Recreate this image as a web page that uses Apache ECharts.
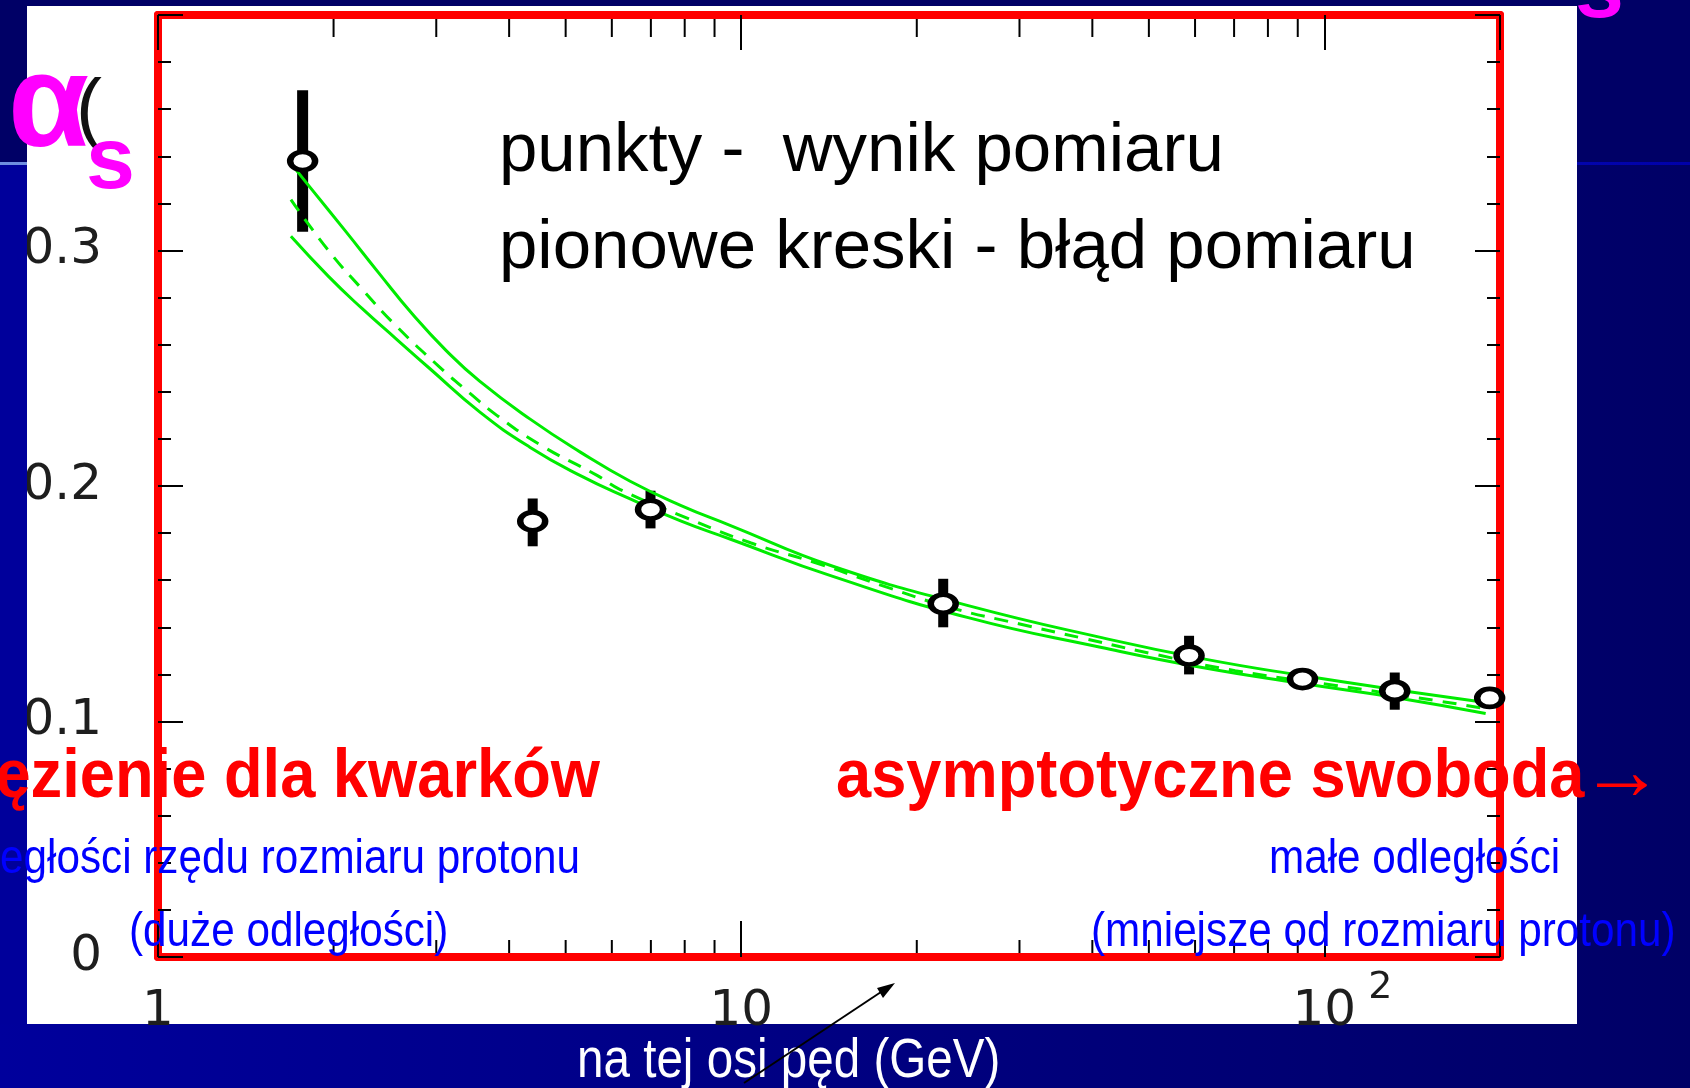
<!DOCTYPE html>
<html>
<head>
<meta charset="utf-8">
<title>alfa_s</title>
<script src="https://cdn.jsdelivr.net/npm/echarts@6/dist/echarts.min.js"></script>
<style>
  html, body { margin: 0; padding: 0; background: #000066; }
  #chart { width: 1690px; height: 1088px; }
</style>
</head>
<body>
<div id="chart"></div>
<script>
// punkty pomiarowe: ped (GeV) i alfa_s, z bledem
var pointX = [1.77, 4.39, 6.99, 22.2, 58.6, 91.7, 132, 192];
var pointY = [0.338, 0.185, 0.190, 0.150, 0.128, 0.118, 0.113, 0.110];
var errLow = [0.308, 0.1744, 0.182, 0.140, 0.120, 0.115, 0.105, 0.107];
var errHigh = [0.368, 0.1947, 0.198, 0.1606, 0.1364, 0.121, 0.1208, 0.113];

// krzywe teoretyczne (pasmo + srodek)
var upperX = [1.69, 1.80, 2.10, 2.39, 2.73, 3.12, 3.56, 4.34, 5.29, 6.45, 7.87, 9.59, 14.4, 24.5, 41.5, 61.7, 91.7, 136, 189];
var upperY = [0.337, 0.3285, 0.308, 0.2905, 0.273, 0.2575, 0.2445, 0.2285, 0.2145, 0.2020, 0.1918, 0.1832, 0.1658, 0.1492, 0.1356, 0.1267, 0.1195, 0.1131, 0.1081];
var lowerX = [1.69, 1.96, 2.235, 2.56, 2.92, 3.56, 4.34, 5.29, 6.45, 7.87, 9.59, 14.4, 24.5, 41.5, 61.7, 91.7, 136, 189];
var lowerY = [0.306, 0.289, 0.2755, 0.2625, 0.250, 0.2315, 0.2165, 0.2045, 0.1945, 0.1852, 0.1774, 0.1615, 0.1441, 0.1314, 0.1229, 0.1161, 0.1097, 0.1034];
var midX = [1.69, 1.96, 2.24, 2.56, 3.04, 3.42, 3.81, 4.52, 5.66, 6.20, 7.96, 10.4, 13.5, 17.5, 22.9, 29.9, 38.8, 50.6, 70.3, 104.5, 155, 189];
var midY = [0.3216, 0.300, 0.2835, 0.268, 0.2505, 0.2395, 0.230, 0.2175, 0.2045, 0.1985, 0.187, 0.1758, 0.1672, 0.1576, 0.1483, 0.1415, 0.1352, 0.1288, 0.1216, 0.1153, 0.1089, 0.1055];

// ticks and labels
var xMinorTicks = [2, 3, 4, 5, 6, 7, 8, 9, 20, 30, 40, 50, 60, 70, 80, 90];
var xLabelValues = [1, 10, 100];
var xLabelText = ['1', '10', '{b|10}{sup|2}'];
var yTickLabels = ['0', '0.1', '0.2', '0.3'];

function zip(xs, ys) {
  return xs.map(function (x, i) { return [x, ys[i]] })
}

var chart = echarts.init(document.getElementById('chart'))

var frameLine = { show: true, onZero: false, lineStyle: { color: '#ff0000', width: 8 } }
var tickStyle = { color: '#000', width: 2 }
var green = '#00ec00'

function txt(opt) {
  var s = opt.style
  s.align = s.textAlign = s.textAlign || 'left'
  s.verticalAlign = s.textVerticalAlign = 'middle'
  return opt
}

chart.setOption({
  animation: false,
  grid: { left: 158, right: 190, top: 15, bottom: 131 },
  xAxis: [
    {
      type: 'log', logBase: 10, min: 1, max: 200, position: 'bottom',
      axisLine: frameLine,
      axisTick: { inside: true, length: 36, lineStyle: tickStyle },
      splitLine: { show: false },
      axisLabel: {
        margin: 30,
        fontFamily: 'DejaVu Sans', fontSize: 50, color: '#1e1e1e', lineHeight: 50,
        formatter: function (v) {
          var i = xLabelValues.indexOf(Math.round(v))
          return i < 0 || Math.abs(v - xLabelValues[i]) > 1e-6 ? '' : xLabelText[i]
        },
        rich: {
          b: { fontFamily: 'DejaVu Sans', fontSize: 50, color: '#1e1e1e', lineHeight: 50, padding: [0, 0, 0, 36] },
          sup: { fontFamily: 'DejaVu Sans', fontSize: 38, color: '#1e1e1e', lineHeight: 2, padding: [0, 0, 48, 12] }
        }
      }
    },
    {
      type: 'log', logBase: 10, min: 1, max: 200, position: 'top',
      axisLine: frameLine,
      axisTick: { inside: true, length: 35, lineStyle: tickStyle },
      splitLine: { show: false },
      axisLabel: { show: false }
    }
  ],
  yAxis: [
    {
      type: 'value', min: 0, max: 0.4, interval: 0.1, position: 'left',
      axisLine: frameLine,
      axisTick: { inside: true, length: 25, lineStyle: tickStyle },
      minorTick: { show: true, splitNumber: 5, length: 13, lineStyle: tickStyle },
      splitLine: { show: false },
      axisLabel: {
        margin: 56, showMaxLabel: false, padding: [6, 0, 0, 0],
        fontFamily: 'DejaVu Sans', fontSize: 50, color: '#1e1e1e',
        formatter: function (v) { return yTickLabels[Math.round(v * 10)] || '' }
      }
    },
    {
      type: 'value', min: 0, max: 0.4, interval: 0.1, position: 'right',
      axisLine: frameLine,
      axisTick: { inside: true, length: 25, lineStyle: tickStyle },
      minorTick: { show: true, splitNumber: 5, length: 13, lineStyle: tickStyle },
      splitLine: { show: false },
      axisLabel: { show: false }
    }
  ],
  series: [
    {
      // minor ticks of the log axis (bottom and top)
      type: 'custom', clip: false, z: 1,
      data: xMinorTicks.map(function (v) { return [v, 0] }),
      encode: { x: 0, y: 1 },
      renderItem: function (params, api) {
        var b = api.coord([api.value(0), 0])
        var t = api.coord([api.value(0), 0.4])
        return {
          type: 'group',
          children: [
            { type: 'line', shape: { x1: b[0], y1: b[1] - 4, x2: b[0], y2: b[1] - 17 }, style: { stroke: '#000', lineWidth: 2 } },
            { type: 'line', shape: { x1: t[0], y1: t[1] + 4, x2: t[0], y2: t[1] + 22 }, style: { stroke: '#000', lineWidth: 2 } }
          ]
        }
      }
    },
    {
      type: 'line', data: zip(upperX, upperY), showSymbol: false, smooth: 0.5,
      lineStyle: { color: green, width: 3 }
    },
    {
      type: 'line', data: zip(midX, midY), showSymbol: false, smooth: 0.5,
      lineStyle: { color: green, width: 3, type: [14, 10] }
    },
    {
      type: 'line', data: zip(lowerX, lowerY), showSymbol: false, smooth: 0.5,
      lineStyle: { color: green, width: 3 }
    },
    {
      // error bars
      type: 'custom', z: 3,
      data: pointX.map(function (x, i) { return [x, errLow[i], errHigh[i]] }),
      encode: { x: 0, y: [1, 2] },
      renderItem: function (params, api) {
        var hi = api.coord([api.value(0), api.value(2)])
        var lo = api.coord([api.value(0), api.value(1)])
        var w = params.dataIndex === 0 ? 11 : 10
        return {
          type: 'rect',
          shape: { x: hi[0] - w / 2, y: hi[1], width: w, height: lo[1] - hi[1] },
          style: { fill: '#000' }
        }
      }
    },
    {
      type: 'scatter', z: 4,
      data: zip(pointX, pointY),
      symbol: 'circle', symbolSize: [25, 18],
      itemStyle: { color: '#fff', borderColor: '#000', borderWidth: 5.5, opacity: 1 }
    }
  ],
  graphic: {
    elements: [
      { type: 'rect', z: -5, shape: { x: 0, y: 0, width: 1690, height: 1088 }, style: { fill: '#000066' } },
      {
        type: 'rect', z: -5, shape: { x: 0, y: 165, width: 1690, height: 923 },
        style: { fill: new echarts.graphic.LinearGradient(0, 0, 1, 0, [{ offset: 0, color: '#00009c' }, { offset: 1, color: '#000066' }]) }
      },
      {
        type: 'rect', z: -5, shape: { x: 0, y: 162, width: 1690, height: 3 },
        style: { fill: new echarts.graphic.LinearGradient(0, 0, 1, 0, [{ offset: 0, color: '#6f8ee0' }, { offset: 0.5, color: '#1020b8' }, { offset: 1, color: '#0000aa' }]) }
      },
      { type: 'rect', z: -4, shape: { x: 27, y: 6, width: 1550, height: 1018 }, style: { fill: '#ffffff' } },
      // left strip, covers the cut tick labels
      { type: 'rect', z: 1, shape: { x: 0, y: 6, width: 27, height: 156 }, style: { fill: '#000066' } },
      { type: 'rect', z: 1, shape: { x: 0, y: 162, width: 27, height: 3 }, style: { fill: '#6f8ee0' } },
      { type: 'rect', z: 1, shape: { x: 0, y: 165, width: 27, height: 859 }, style: { fill: '#00009b' } },

      txt({ type: 'text', z: 5, x: 499, y: 152, style: { text: 'punkty -  wynik pomiaru', fill: '#000', font: '69px "Liberation Sans", Arial, sans-serif' } }),
      txt({ type: 'text', z: 5, x: 499, y: 249, style: { text: 'pionowe kreski - błąd pomiaru', fill: '#000', font: '69px "Liberation Sans", Arial, sans-serif' } }),

      txt({ type: 'text', z: 5, x: 600, y: 778, scaleX: 0.93, style: { text: 'uwięzienie dla kwarków', textAlign: 'right', fill: '#ff0000', font: 'bold 68px "Liberation Sans", Arial, sans-serif' } }),
      txt({ type: 'text', z: 5, x: 836, y: 778, scaleX: 0.93, style: { text: 'asymptotyczne swoboda', fill: '#ff0000', font: 'bold 68px "Liberation Sans", Arial, sans-serif' } }),
      txt({ type: 'text', z: 5, x: 1580, y: 776, style: { text: '→', fill: '#ff0000', font: '84px "Liberation Sans", Arial, sans-serif' } }),

      txt({ type: 'text', z: 5, x: 580, y: 860, scaleX: 0.88, style: { text: 'odległości rzędu rozmiaru protonu', textAlign: 'right', fill: '#0000ff', font: '48px "Liberation Sans", Arial, sans-serif' } }),
      txt({ type: 'text', z: 5, x: 129, y: 933, scaleX: 0.88, style: { text: '(duże odległości)', fill: '#0000ff', font: '48px "Liberation Sans", Arial, sans-serif' } }),
      txt({ type: 'text', z: 5, x: 1269, y: 860, scaleX: 0.88, style: { text: 'małe odległości', fill: '#0000ff', font: '48px "Liberation Sans", Arial, sans-serif' } }),
      txt({ type: 'text', z: 5, x: 1091, y: 933, scaleX: 0.88, style: { text: '(mniejsze od rozmiaru protonu)', fill: '#0000ff', font: '48px "Liberation Sans", Arial, sans-serif' } }),

      txt({ type: 'text', z: 5, x: 577, y: 1062, scaleX: 0.85, style: { text: 'na tej osi pęd (GeV)', fill: '#ffffff', font: '56px "Liberation Sans", Arial, sans-serif' } }),

      // arrow pointing at the axis
      { type: 'line', z: 5, shape: { x1: 744, y1: 1083, x2: 884, y2: 990 }, style: { stroke: '#000', lineWidth: 2 } },
      { type: 'polygon', z: 5, shape: { points: [[895, 983], [883, 998], [877, 988]] }, style: { fill: '#000' } },

      // alpha_s
      txt({ type: 'text', z: 6, x: 8, y: 110, style: { text: 'α', fill: '#ff00ff', font: 'bold 132px "Liberation Sans", Arial, sans-serif', textShadowColor: '#000', textShadowOffsetX: 5, textShadowOffsetY: 5, textShadowBlur: 0 } }),
      txt({ type: 'text', z: 5, x: 76, y: 112, style: { text: '(', fill: '#111', font: '78px "Liberation Sans", Arial, sans-serif' } }),
      txt({ type: 'text', z: 6, x: 86, y: 164, style: { text: 's', fill: '#ff00ff', font: 'bold 88px "Liberation Sans", Arial, sans-serif', textShadowColor: '#000', textShadowOffsetX: 4, textShadowOffsetY: 4, textShadowBlur: 0 } }),
      txt({ type: 'text', z: 6, x: 1575, y: -7, style: { text: 's', fill: '#ff00ff', font: 'bold 88px "Liberation Sans", Arial, sans-serif', textShadowColor: '#000', textShadowOffsetX: 4, textShadowOffsetY: 4, textShadowBlur: 0 } })
    ]
  }
})
</script>
</body>
</html>
